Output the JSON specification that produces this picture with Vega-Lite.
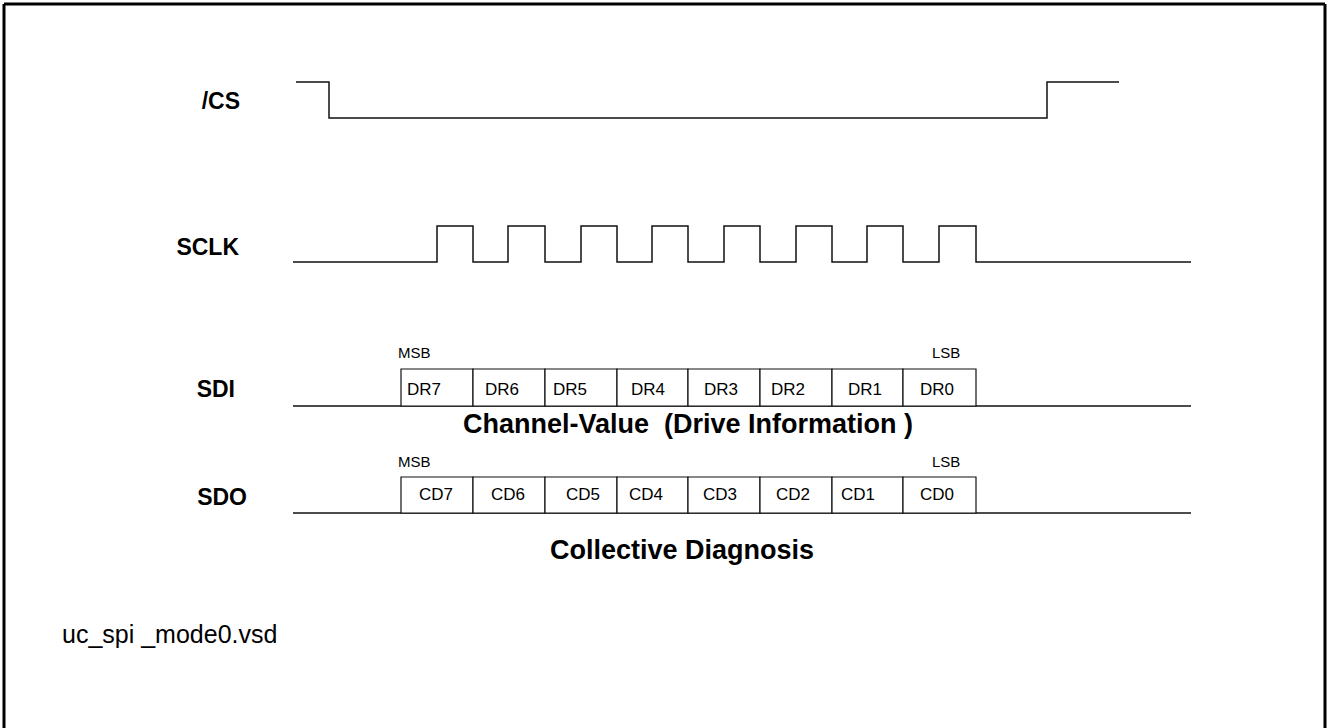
{
  "$schema": "https://vega.github.io/schema/vega-lite/v6.json",
  "width": 1327,
  "height": 728,
  "autosize": {"type": "none"},
  "padding": 0,
  "background": "white",
  "config": {"view": {"stroke": null}, "axis": {"disable": true}},
  "datasets": {
    "wave": [
      {"sig": "CS", "i": 0, "x": 296, "y": 82},
      {"sig": "CS", "i": 1, "x": 329, "y": 82},
      {"sig": "CS", "i": 2, "x": 329, "y": 118},
      {"sig": "CS", "i": 3, "x": 1047, "y": 118},
      {"sig": "CS", "i": 4, "x": 1047, "y": 82},
      {"sig": "CS", "i": 5, "x": 1119, "y": 82},
      {"sig": "SCLK", "i": 0, "x": 293, "y": 262},
      {"sig": "SCLK", "i": 1, "x": 437, "y": 262},
      {"sig": "SCLK", "i": 2, "x": 437, "y": 226},
      {"sig": "SCLK", "i": 3, "x": 473, "y": 226},
      {"sig": "SCLK", "i": 4, "x": 473, "y": 262},
      {"sig": "SCLK", "i": 5, "x": 508, "y": 262},
      {"sig": "SCLK", "i": 6, "x": 508, "y": 226},
      {"sig": "SCLK", "i": 7, "x": 545, "y": 226},
      {"sig": "SCLK", "i": 8, "x": 545, "y": 262},
      {"sig": "SCLK", "i": 9, "x": 581, "y": 262},
      {"sig": "SCLK", "i": 10, "x": 581, "y": 226},
      {"sig": "SCLK", "i": 11, "x": 617, "y": 226},
      {"sig": "SCLK", "i": 12, "x": 617, "y": 262},
      {"sig": "SCLK", "i": 13, "x": 652, "y": 262},
      {"sig": "SCLK", "i": 14, "x": 652, "y": 226},
      {"sig": "SCLK", "i": 15, "x": 688, "y": 226},
      {"sig": "SCLK", "i": 16, "x": 688, "y": 262},
      {"sig": "SCLK", "i": 17, "x": 724, "y": 262},
      {"sig": "SCLK", "i": 18, "x": 724, "y": 226},
      {"sig": "SCLK", "i": 19, "x": 760, "y": 226},
      {"sig": "SCLK", "i": 20, "x": 760, "y": 262},
      {"sig": "SCLK", "i": 21, "x": 796, "y": 262},
      {"sig": "SCLK", "i": 22, "x": 796, "y": 226},
      {"sig": "SCLK", "i": 23, "x": 832, "y": 226},
      {"sig": "SCLK", "i": 24, "x": 832, "y": 262},
      {"sig": "SCLK", "i": 25, "x": 867, "y": 262},
      {"sig": "SCLK", "i": 26, "x": 867, "y": 226},
      {"sig": "SCLK", "i": 27, "x": 903, "y": 226},
      {"sig": "SCLK", "i": 28, "x": 903, "y": 262},
      {"sig": "SCLK", "i": 29, "x": 939, "y": 262},
      {"sig": "SCLK", "i": 30, "x": 939, "y": 226},
      {"sig": "SCLK", "i": 31, "x": 976, "y": 226},
      {"sig": "SCLK", "i": 32, "x": 976, "y": 262},
      {"sig": "SCLK", "i": 33, "x": 1191, "y": 262}
    ],
    "segs": [
      {"x": 293, "x2": 1191, "y": 406, "y2": 406},
      {"x": 293, "x2": 1191, "y": 513, "y2": 513}
    ],
    "frame": [
      {"x": 4, "x2": 4, "y": 4, "y2": 730},
      {"x": 4, "x2": 1325, "y": 4, "y2": 4},
      {"x": 1325, "x2": 1325, "y": 4, "y2": 730}
    ],
    "boxes": [
      {"x": 401, "x2": 473, "y": 369, "y2": 406},
      {"x": 473, "x2": 545, "y": 369, "y2": 406},
      {"x": 545, "x2": 617, "y": 369, "y2": 406},
      {"x": 617, "x2": 688, "y": 369, "y2": 406},
      {"x": 688, "x2": 760, "y": 369, "y2": 406},
      {"x": 760, "x2": 832, "y": 369, "y2": 406},
      {"x": 832, "x2": 903, "y": 369, "y2": 406},
      {"x": 903, "x2": 976, "y": 369, "y2": 406},
      {"x": 401, "x2": 473, "y": 477, "y2": 513},
      {"x": 473, "x2": 545, "y": 477, "y2": 513},
      {"x": 545, "x2": 617, "y": 477, "y2": 513},
      {"x": 617, "x2": 688, "y": 477, "y2": 513},
      {"x": 688, "x2": 760, "y": 477, "y2": 513},
      {"x": 760, "x2": 832, "y": 477, "y2": 513},
      {"x": 832, "x2": 903, "y": 477, "y2": 513},
      {"x": 903, "x2": 976, "y": 477, "y2": 513}
    ],
    "texts": [
      {"kind": "sig", "t": "/CS", "x": 240, "y": 102},
      {"kind": "sig", "t": "SCLK", "x": 239, "y": 248},
      {"kind": "sig", "t": "SDI", "x": 235, "y": 390},
      {"kind": "sig", "t": "SDO", "x": 247, "y": 498},
      {"kind": "msb", "t": "MSB", "x": 398, "y": 353},
      {"kind": "msb", "t": "LSB", "x": 932, "y": 353},
      {"kind": "msb", "t": "MSB", "x": 398, "y": 462},
      {"kind": "msb", "t": "LSB", "x": 932, "y": 462},
      {"kind": "bit", "t": "DR7", "x": 424, "y": 390},
      {"kind": "bit", "t": "DR6", "x": 502, "y": 390},
      {"kind": "bit", "t": "DR5", "x": 570, "y": 390},
      {"kind": "bit", "t": "DR4", "x": 648, "y": 390},
      {"kind": "bit", "t": "DR3", "x": 721, "y": 390},
      {"kind": "bit", "t": "DR2", "x": 788, "y": 390},
      {"kind": "bit", "t": "DR1", "x": 865, "y": 390},
      {"kind": "bit", "t": "DR0", "x": 937, "y": 390},
      {"kind": "bit", "t": "CD7", "x": 436, "y": 495},
      {"kind": "bit", "t": "CD6", "x": 508, "y": 495},
      {"kind": "bit", "t": "CD5", "x": 583, "y": 495},
      {"kind": "bit", "t": "CD4", "x": 646, "y": 495},
      {"kind": "bit", "t": "CD3", "x": 720, "y": 495},
      {"kind": "bit", "t": "CD2", "x": 793, "y": 495},
      {"kind": "bit", "t": "CD1", "x": 858, "y": 495},
      {"kind": "bit", "t": "CD0", "x": 937, "y": 495},
      {"kind": "cap", "t": "Channel-Value \u00a0(Drive Information )", "x": 688, "y": 425},
      {"kind": "cap", "t": "Collective Diagnosis", "x": 682, "y": 551},
      {"kind": "file", "t": "uc_spi _mode0.vsd", "x": 62, "y": 635}
    ]
  },
  "layer": [
    {
      "data": {"name": "frame"},
      "mark": {"type": "rule", "stroke": "black", "strokeWidth": 3, "clip": false},
      "encoding": {
        "x": {"field": "x", "type": "quantitative", "scale": {"domain": [0, 1327], "nice": false, "zero": false}},
        "x2": {"field": "x2"},
        "y": {"field": "y", "type": "quantitative", "scale": {"domain": [0, 728], "reverse": true, "nice": false, "zero": false}},
        "y2": {"field": "y2"}
      }
    },
    {
      "data": {"name": "segs"},
      "mark": {"type": "rule", "stroke": "#111", "strokeWidth": 1.3},
      "encoding": {
        "x": {"field": "x", "type": "quantitative"},
        "x2": {"field": "x2"},
        "y": {"field": "y", "type": "quantitative"},
        "y2": {"field": "y2"}
      }
    },
    {
      "data": {"name": "wave"},
      "mark": {"type": "line", "stroke": "#111", "strokeWidth": 1.5, "interpolate": "linear"},
      "encoding": {
        "x": {"field": "x", "type": "quantitative"},
        "y": {"field": "y", "type": "quantitative"},
        "detail": {"field": "sig"},
        "order": {"field": "i", "type": "quantitative"}
      }
    },
    {
      "data": {"name": "boxes"},
      "mark": {"type": "rect", "fill": "white", "stroke": "#111", "strokeWidth": 1.2},
      "encoding": {
        "x": {"field": "x", "type": "quantitative"},
        "x2": {"field": "x2"},
        "y": {"field": "y", "type": "quantitative"},
        "y2": {"field": "y2"}
      }
    },
    {
      "data": {"name": "texts"},
      "transform": [{"filter": "datum.kind === 'sig'"}],
      "mark": {"type": "text", "font": "Liberation Sans", "fontWeight": "bold", "fontSize": 23, "align": "right", "baseline": "middle", "color": "black"},
      "encoding": {
        "x": {"field": "x", "type": "quantitative"},
        "y": {"field": "y", "type": "quantitative"},
        "text": {"field": "t"}
      }
    },
    {
      "data": {"name": "texts"},
      "transform": [{"filter": "datum.kind === 'msb'"}],
      "mark": {"type": "text", "font": "Liberation Sans", "fontSize": 15, "align": "left", "baseline": "middle", "color": "black"},
      "encoding": {
        "x": {"field": "x", "type": "quantitative"},
        "y": {"field": "y", "type": "quantitative"},
        "text": {"field": "t"}
      }
    },
    {
      "data": {"name": "texts"},
      "transform": [{"filter": "datum.kind === 'bit'"}],
      "mark": {"type": "text", "font": "Liberation Sans", "fontSize": 17, "align": "center", "baseline": "middle", "color": "black"},
      "encoding": {
        "x": {"field": "x", "type": "quantitative"},
        "y": {"field": "y", "type": "quantitative"},
        "text": {"field": "t"}
      }
    },
    {
      "data": {"name": "texts"},
      "transform": [{"filter": "datum.kind === 'cap'"}],
      "mark": {"type": "text", "font": "Liberation Sans", "fontWeight": "bold", "fontSize": 27, "align": "center", "baseline": "middle", "color": "black"},
      "encoding": {
        "x": {"field": "x", "type": "quantitative"},
        "y": {"field": "y", "type": "quantitative"},
        "text": {"field": "t"}
      }
    },
    {
      "data": {"name": "texts"},
      "transform": [{"filter": "datum.kind === 'file'"}],
      "mark": {"type": "text", "font": "Liberation Sans", "fontSize": 25, "align": "left", "baseline": "middle", "color": "black"},
      "encoding": {
        "x": {"field": "x", "type": "quantitative"},
        "y": {"field": "y", "type": "quantitative"},
        "text": {"field": "t"}
      }
    }
  ]
}
